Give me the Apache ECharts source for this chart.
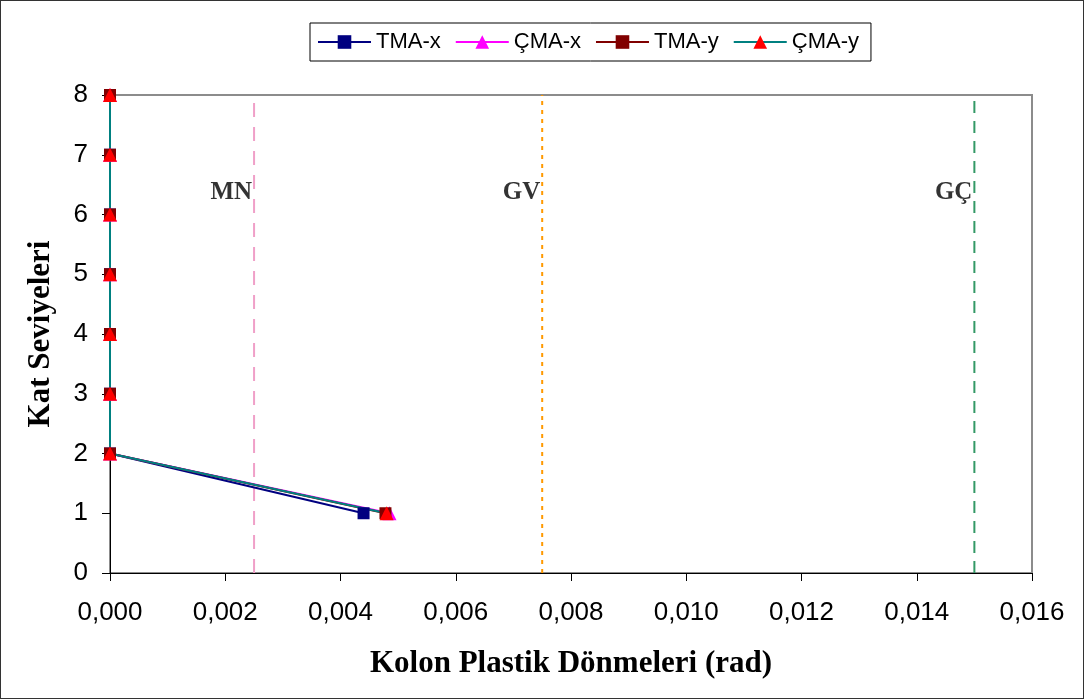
<!DOCTYPE html>
<html lang="tr">
<head>
    <meta charset="UTF-8" />
    <title>Kolon Plastik Dönmeleri</title>
    <script src="https://cdn.jsdelivr.net/npm/echarts@6/dist/echarts.min.js"></script>
    <style>
        body { margin: 0; background: #fff; }
        #chart { width: 1084px; height: 699px; box-sizing: border-box; border: 1px solid #333; }
    </style>
</head>
<body>
    <div id="chart"></div>
    <script>
        // kat seviyeleri (1..8)
        var floors = [1, 2, 3, 4, 5, 6, 7, 8]
        var tmaX = [0.0044, 0, 0, 0, 0, 0, 0, 0]
        var cmaX = [0.00485, 0, 0, 0, 0, 0, 0, 0]
        var tmaY = [0.00478, 0, 0, 0, 0, 0, 0, 0]
        var cmaY = [0.0048, 0, 0, 0, 0, 0, 0, 0]

        // performans sınırları
        var limitNames = ['MN', 'GV', 'GÇ']
        var limitValues = [0.0025, 0.0075, 0.015]
        var limitLabelY = 6.37

        var mCharts = echarts.init(document.getElementById('chart'))

        function pairs(xs) {
            var out = []
            for (var i = 0; i < xs.length; i++) {
                out.push([xs[i], floors[i]])
            }
            return out
        }

        function limitSeries(idx, color, dash) {
            return {
                name: limitNames[idx],
                type: 'line',
                data: [[limitValues[idx], 0], [limitValues[idx], 8]],
                symbol: 'none',
                silent: true,
                z: 1,
                lineStyle: { color: color, width: 2, type: dash }
            }
        }

        var option = {
            animation: false,
            legend: {
                data: ['TMA-x', 'ÇMA-x', 'TMA-y', 'ÇMA-y'],
                left: 309,
                top: 22,
                padding: [8, 12, 8, 7],
                itemGap: 14,
                itemWidth: 53,
                itemHeight: 17,
                borderColor: '#000',
                borderWidth: 1,
                textStyle: { fontFamily: 'Liberation Sans, Arial', fontSize: 22, color: '#000' }
            },
            grid: {
                left: 109,
                right: 51,
                top: 94,
                bottom: 125,
                show: true,
                borderColor: '#8c8c8c',
                borderWidth: 2
            },
            xAxis: {
                type: 'value',
                min: 0,
                max: 0.016,
                interval: 0.002,
                name: 'Kolon Plastik Dönmeleri (rad)',
                nameLocation: 'middle',
                nameGap: 75,
                nameTextStyle: { fontFamily: 'Liberation Serif, Times New Roman', fontWeight: 'bold', fontSize: 31, color: '#000' },
                axisLine: { lineStyle: { color: '#000', width: 1 } },
                axisTick: { show: true, length: 8, lineStyle: { color: '#000' } },
                splitLine: { show: false },
                axisLabel: {
                    margin: 27,
                    fontFamily: 'Liberation Sans, Arial',
                    fontSize: 26,
                    color: '#000',
                    formatter: function (v) { return v.toFixed(3).replace('.', ',') }
                }
            },
            yAxis: {
                type: 'value',
                min: 0,
                max: 8,
                interval: 1,
                name: 'Kat Seviyeleri',
                nameLocation: 'middle',
                nameGap: 54,
                nameTextStyle: { fontFamily: 'Liberation Serif, Times New Roman', fontWeight: 'bold', fontSize: 31, color: '#000' },
                axisLine: { show: true, lineStyle: { color: '#000', width: 1 } },
                axisTick: { show: true, length: 8, lineStyle: { color: '#000' } },
                splitLine: { show: false },
                axisLabel: {
                    margin: 22,
                    fontFamily: 'Liberation Sans, Arial',
                    fontSize: 26,
                    color: '#000'
                }
            },
            series: [
                limitSeries(0, '#f0a0c8', [14, 10]),
                limitSeries(1, '#ff9900', [4, 5]),
                limitSeries(2, '#339966', [12, 8]),
                {
                    name: 'limits',
                    type: 'scatter',
                    symbolSize: 0,
                    silent: true,
                    data: limitValues.map(function (v, i) { return { value: [v, limitLabelY], name: limitNames[i] } }),
                    label: {
                        show: true,
                        position: 'left',
                        distance: 2,
                        formatter: '{b}',
                        fontFamily: 'Liberation Serif, Times New Roman',
                        fontWeight: 'bold',
                        fontSize: 25,
                        color: '#000'
                    }
                },
                {
                    name: 'TMA-x',
                    type: 'line',
                    data: pairs(tmaX),
                    symbol: 'rect',
                    symbolSize: 12,
                    lineStyle: { color: '#000080', width: 2 },
                    itemStyle: { color: '#000080' }
                },
                {
                    name: 'ÇMA-x',
                    type: 'line',
                    data: pairs(cmaX),
                    symbol: 'triangle',
                    symbolSize: 14,
                    lineStyle: { color: '#ff00ff', width: 2 },
                    itemStyle: { color: '#ff00ff' }
                },
                {
                    name: 'TMA-y',
                    type: 'line',
                    data: pairs(tmaY),
                    symbol: 'rect',
                    symbolSize: 12,
                    lineStyle: { color: '#800000', width: 2 },
                    itemStyle: { color: '#800000' }
                },
                {
                    name: 'ÇMA-y',
                    type: 'line',
                    data: pairs(cmaY),
                    symbol: 'triangle',
                    symbolSize: 14,
                    lineStyle: { color: '#008080', width: 2 },
                    itemStyle: { color: '#ff0000' }
                }
            ]
        }
        mCharts.setOption(option)
    </script>
</body>
</html>
